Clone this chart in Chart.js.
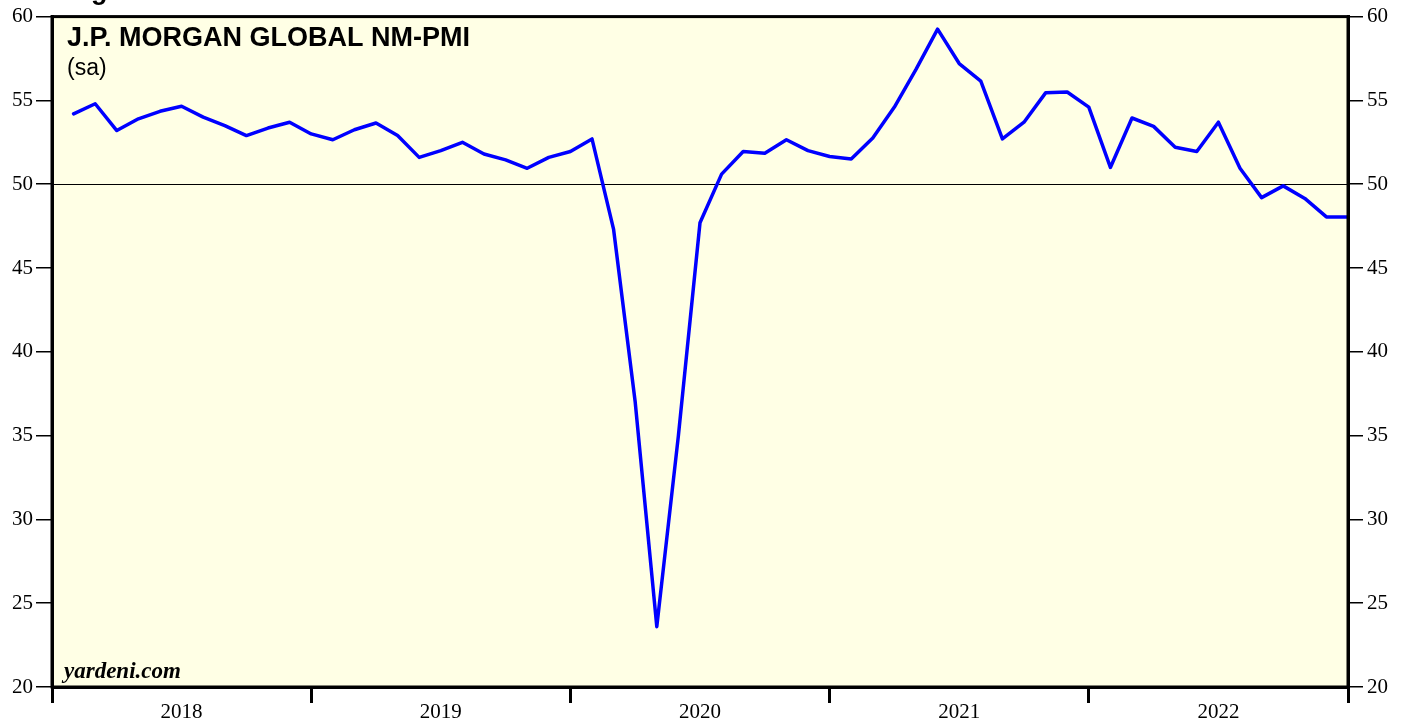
<!DOCTYPE html>
<html>
<head>
<meta charset="utf-8">
<script src="https://cdn.jsdelivr.net/npm/chart.js@4.4.0/dist/chart.umd.min.js"></script>
<style>
  html, body { margin: 0; padding: 0; background: #fff; }
  #wrap { width: 1408px; height: 723px; position: relative; }
</style>
</head>
<body>
<div id="wrap"><canvas id="pmiChart" width="1408" height="723"></canvas></div>
<script>
// monthly, Jan 2018 - Dec 2022 (plotted at month end)
const years = ['2018', '2019', '2020', '2021', '2022'];
const pmi2018 = [54.2, 54.8, 53.2, 53.9, 54.35, 54.65, 54.0, 53.5, 52.9, 53.35, 53.7, 53.0];
const pmi2019 = [52.65, 53.25, 53.65, 52.9, 51.6, 52.0, 52.5, 51.8, 51.45, 50.95, 51.6, 51.95];
const pmi2020 = [52.7, 47.3, 37.0, 23.6, 35.0, 47.7, 50.6, 51.95, 51.85, 52.65, 52.0, 51.65];
const pmi2021 = [51.5, 52.75, 54.6, 56.85, 59.25, 57.2, 56.15, 52.7, 53.7, 55.45, 55.5, 54.6];
const pmi2022 = [51.0, 53.95, 53.45, 52.2, 51.95, 53.7, 50.95, 49.2, 49.9, 49.15, 48.05, 48.05];
const yTicks = [20, 25, 30, 35, 40, 45, 50, 55, 60];

const pmiValues = [].concat(pmi2018, pmi2019, pmi2020, pmi2021, pmi2022);
const pmiPoints = pmiValues.map((v, i) => ({ x: i + 1, y: v }));

const serif = '"Liberation Serif", "Times New Roman", serif';
const sans = '"Liberation Sans", Arial, sans-serif';

const chartDecor = {
  id: 'chart_decor',
  beforeDraw: (chart) => {
    const { ctx, chartArea } = chart;
    ctx.save();
    ctx.fillStyle = '#FFFFE5';
    ctx.fillRect(chartArea.left, chartArea.top, chartArea.width, chartArea.height);
    ctx.restore();
  },
  beforeDatasetsDraw: (chart) => {
    const { ctx, chartArea } = chart;
    const y50 = Math.round(chart.scales.y.getPixelForValue(50)) + 0.5;
    ctx.save();
    ctx.strokeStyle = '#000';
    ctx.lineWidth = 1;
    ctx.beginPath();
    ctx.moveTo(chartArea.left, y50);
    ctx.lineTo(chartArea.right, y50);
    ctx.stroke();
    ctx.restore();
  },
  afterDraw: (chart) => {
    const { ctx, chartArea } = chart;
    ctx.save();
    ctx.strokeStyle = '#000';
    ctx.lineWidth = 3;
    ctx.strokeRect(chartArea.left, chartArea.top, chartArea.width, chartArea.height);

    // headings
    ctx.fillStyle = '#000';
    ctx.textBaseline = 'alphabetic';
    ctx.font = 'bold 27px ' + sans;
    ctx.fillText('Figure 1.', 67, -1);
    ctx.fillText('J.P. MORGAN GLOBAL NM-PMI', chartArea.left + 15, chartArea.top + 29);
    ctx.font = '23px ' + sans;
    ctx.fillText('(sa)', chartArea.left + 15, chartArea.top + 58);
    ctx.font = 'italic bold 23px ' + serif;
    ctx.fillText('yardeni.com', chartArea.left + 12, chartArea.bottom - 9);
    ctx.restore();
  }
};

const yAxis = (pos, w, tl, pad) => ({
  type: 'linear',
  position: pos,
  min: 20,
  max: 60,
  afterBuildTicks: (s) => { s.ticks = yTicks.map(v => ({ value: v })); },
  afterFit: (s) => { s.width = w; },
  ticks: { color: '#000', font: { family: serif, size: 21 }, padding: pad },
  grid: { drawOnChartArea: false, drawTicks: true, tickLength: tl, color: '#000', lineWidth: 1.5 },
  border: { display: true, color: '#000', width: 3 }
});

new Chart(document.getElementById('pmiChart'), {
  type: 'line',
  data: {
    datasets: [{
      label: 'NM-PMI',
      data: pmiPoints,
      borderColor: '#0000FF',
      borderWidth: 3.5,
      pointRadius: 0,
      tension: 0,
      borderJoinStyle: 'round',
      borderCapStyle: 'round'
    }]
  },
  options: {
    responsive: false,
    animation: false,
    layout: { padding: { top: 14, left: 0, right: 0, bottom: 0 } },
    plugins: { legend: { display: false }, tooltip: { enabled: false }, title: { display: false } },
    scales: {
      x: {
        type: 'linear',
        min: 0,
        max: 60,
        afterBuildTicks: (s) => {
          const t = [];
          for (let v = 0; v <= 60; v += 6) t.push({ value: v });
          s.ticks = t;
        },
        afterFit: (s) => { s.height = 36; },
        ticks: {
          autoSkip: false,
          maxRotation: 0,
          color: '#000',
          font: { family: serif, size: 21 },
          padding: -3,
          callback: (v) => (v % 12 === 6 ? years[(v - 6) / 12] : '')
        },
        grid: {
          drawOnChartArea: false,
          drawTicks: true,
          tickLength: 16,
          lineWidth: 3,
          color: (c) => (c.tick && c.tick.value % 12 === 0 ? '#000' : 'rgba(0,0,0,0)')
        },
        border: { display: true, color: '#000', width: 3 }
      },
      y: yAxis('left', 52, 16, 3),
      y2: yAxis('right', 60, 15, 4)
    }
  },
  plugins: [chartDecor]
});
</script>
</body>
</html>
